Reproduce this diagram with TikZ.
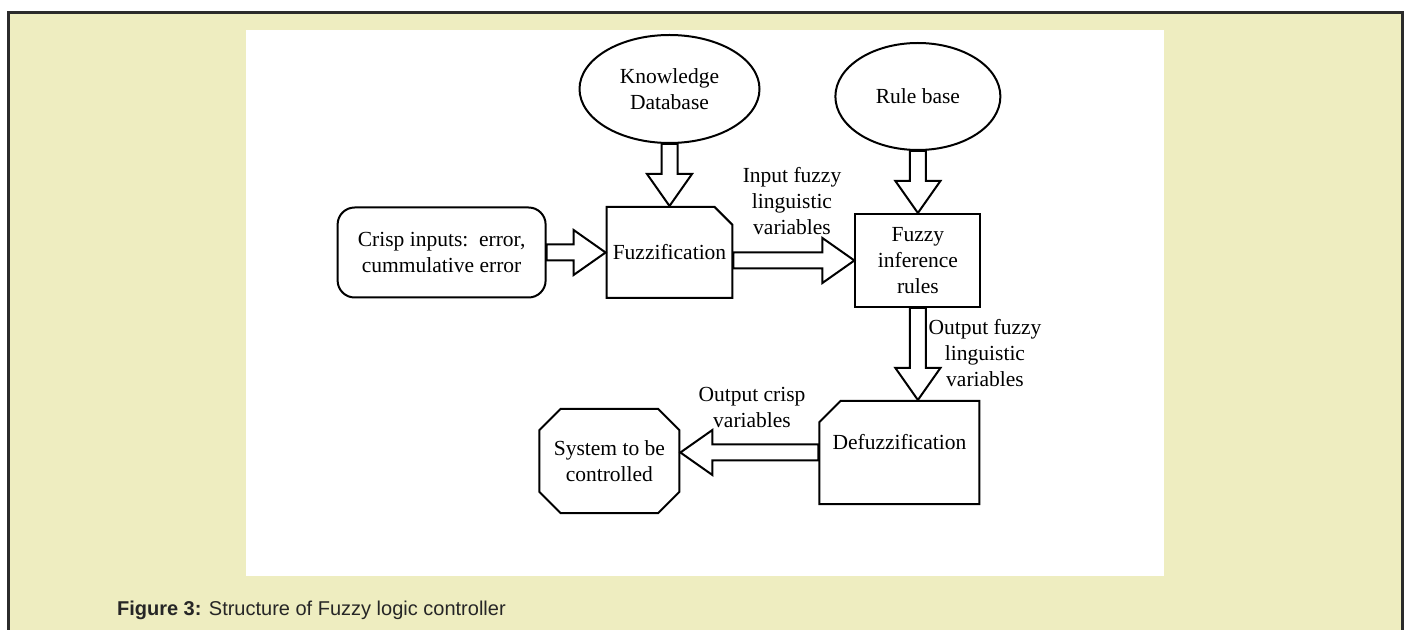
\documentclass[tikz,border=0pt]{standalone}
\usepackage{fontspec}
\setmainfont{Liberation Serif}
\newfontfamily\capfont{Liberation Sans}
\usetikzlibrary{positioning,calc,shapes.geometric,shapes.misc}

\definecolor{pagebg}{HTML}{EEEDC0}
\definecolor{framegray}{HTML}{2B2B2B}
\definecolor{captext}{HTML}{262626}

\tikzset{
  box/.style={draw, line width=1pt, align=center, inner sep=2pt,
    minimum width=62.5pt, minimum height=45.5pt},
  snipbox/.style={box, chamfered rectangle, chamfered rectangle xsep=6pt,
    inner xsep=-2.75pt},
  dbase/.style={ellipse, draw, line width=1pt, align=center, inner sep=0pt},
  lbl/.style={align=center, inner sep=0pt},
  fat arrow/.style={draw=black, fill=white, line width=1pt,
    to path={let \p1=(\tikztostart), \p2=(\tikztotarget),
      \n1={atan2(\y2-\y1,\x2-\x1)} in
      ($(\p1)+(\n1+90:4pt)$)
      -- ($(\p2)+(\n1:-16pt)+(\n1+90:4pt)$)
      -- ($(\p2)+(\n1:-16pt)+(\n1+90:11.25pt)$)
      -- (\p2)
      -- ($(\p2)+(\n1:-16pt)+(\n1-90:11.25pt)$)
      -- ($(\p2)+(\n1:-16pt)+(\n1-90:4pt)$)
      -- ($(\p1)+(\n1-90:4pt)$)
      -- cycle}}
}

\begin{document}
\begin{tikzpicture}[x=0.5pt, y=-0.5pt,
  every node/.style={font=\fontsize{10.75pt}{13pt}\selectfont}]
\useasboundingbox (0,0) rectangle (1408,630);
\clip (0,0) rectangle (1408,630);
\fill[white] (0,0) rectangle (1408,630);
\draw[framegray, line width=1.5pt, fill=pagebg] (8.5,13) rectangle (1402.5,660);
\fill[white] (246,30) rectangle (1164,576);

% blocks
\node[snipbox, chamfered rectangle corners=north east] (fuzz) at (669.5,252.5) {Fuzzification};
\node[box, rounded corners=8.5pt, minimum width=104pt, minimum height=45pt, left=29.5pt of fuzz] (crisp) {Crisp inputs:\, error,\\ cummulative error};
\node[dbase, minimum width=90pt, minimum height=54pt, above=31pt of fuzz] (kd) {Knowledge\\ Database};
\node[box, minimum height=46.5pt, right=60.5pt of fuzz, yshift=-4pt] (inf) {Fuzzy\\ inference\\ rules};
\node[dbase, minimum width=82.5pt, minimum height=53.5pt, above=31pt of inf] (rb) {Rule base};
\node[snipbox, chamfered rectangle corners=north west, chamfered rectangle xsep=7.5pt,
  minimum width=80pt, minimum height=51.5pt, text height=7.5pt, text depth=10.5pt,
  below=46pt of inf, xshift=-9.25pt] (defuzz) {Defuzzification};
\node[box, chamfered rectangle, chamfered rectangle xsep=7.5pt, inner xsep=-2.75pt,
  minimum width=70pt, minimum height=52pt, left=69pt of defuzz, yshift=-4.25pt] (sys) {System to be\\ controlled};

% labels
\node[lbl] (inlbl) at (792,201) {Input fuzzy\\ linguistic\\ variables};
\node[lbl] (outflbl) at (985,353) {Output fuzzy\\ linguistic\\ variables};
\node[lbl] (outclbl) at (752,407.5) {Output crisp\\ variables};

% block arrows
\path (crisp.east) edge[fat arrow] (fuzz.west)
      (kd.south) edge[fat arrow] (fuzz.north)
      (fuzz.east |- inf.west) edge[fat arrow] (inf.west)
      (rb.south) edge[fat arrow] (inf.north)
      (inf.south) edge[fat arrow] (inf.south |- defuzz.north)
      (defuzz.west) edge[fat arrow] (sys.east |- defuzz.west);

\node[anchor=base west, text=captext, font=\capfont\fontsize{10pt}{12pt}\selectfont]
  (cap) at (110,615) {\textbf{Figure 3:} Structure of Fuzzy logic controller};
\end{tikzpicture}
\end{document}
